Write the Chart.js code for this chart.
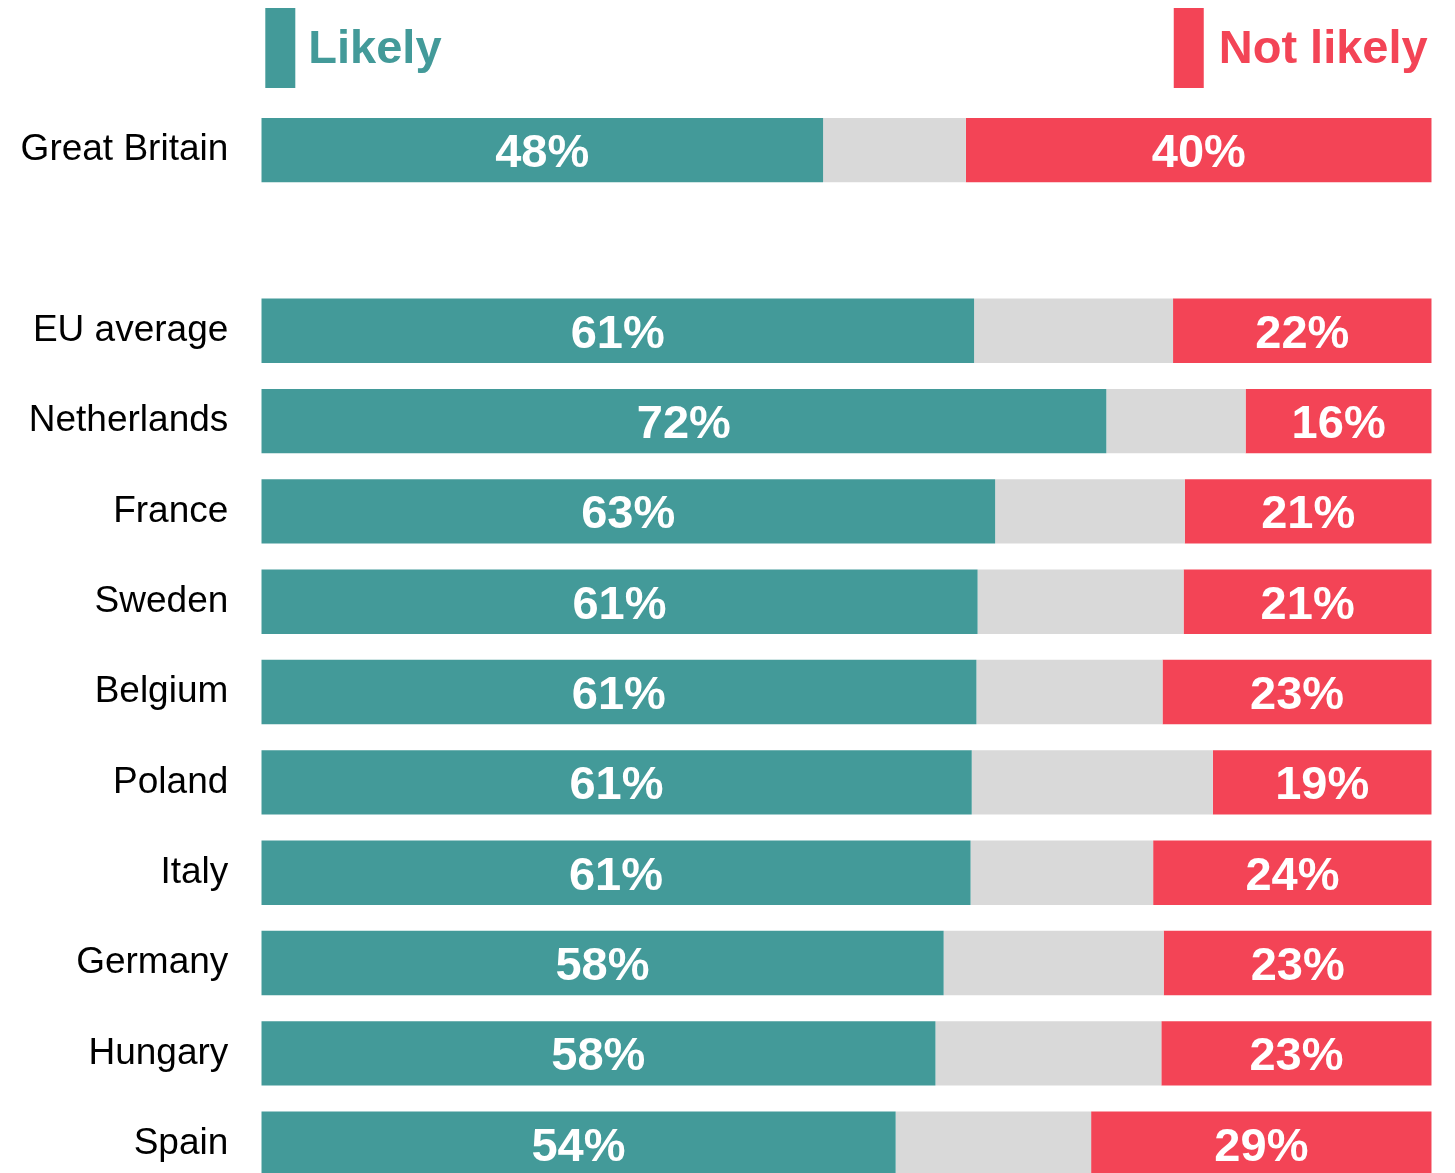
<!DOCTYPE html>
<html>
<head>
<meta charset="utf-8">
<script src="https://cdn.jsdelivr.net/npm/chart.js@4.4.1/dist/chart.umd.min.js"></script>
<style>
  html, body { margin: 0; padding: 0; background: #fff; overflow: hidden; height: 1173px; }
  #wrap { width: 1455px; height: 1244px; }
</style>
</head>
<body>
<div id="wrap"><canvas id="chart" width="1455" height="1244"></canvas></div>
<script>
  // rows, with an empty slot between GB and the EU block
  const countries = ["Great Britain", "", "EU average", "Netherlands", "France", "Sweden",
                     "Belgium", "Poland", "Italy", "Germany", "Hungary", "Spain"];
  // shares in %
  const likely    = [48.0, null, 60.9, 72.2, 62.7, 61.2, 61.1, 60.7, 60.6, 58.3, 57.6, 54.2];
  const neither   = [12.2, null, 17.0, 11.9, 16.2, 17.6, 15.9, 20.6, 15.6, 18.8, 19.3, 16.7];
  const notLikely = [39.8, null, 22.1, 15.9, 21.1, 21.2, 23.0, 18.7, 23.8, 22.9, 23.1, 29.1];

  const TEAL = "#439a99";
  const RED = "#f34456";
  const GREY = "#d9d9d9";
  const FONT = "'Liberation Sans', Arial, sans-serif";

  // white % labels in the middle of the coloured segments
  const barLabels = {
    id: "barLabels",
    afterDatasetsDraw(chart) {
      const ctx = chart.ctx;
      ctx.save();
      ctx.font = "bold 47px " + FONT;
      ctx.fillStyle = "#fff";
      ctx.textAlign = "center";
      ctx.textBaseline = "alphabetic";
      [0, 2].forEach(di => {
        const meta = chart.getDatasetMeta(di);
        meta.data.forEach((bar, i) => {
          const v = chart.data.datasets[di].data[i];
          if (v == null) return;
          const cx = (bar.x + bar.base) / 2;
          ctx.fillText(Math.round(v) + "%", cx, bar.y + 17);
        });
      });
      ctx.restore();
    }
  };

  // legend: coloured block + bold word, one at each end
  const topLegend = {
    id: "topLegend",
    afterDraw(chart) {
      const ctx = chart.ctx;
      const area = chart.chartArea;
      ctx.save();
      ctx.font = "bold 47px " + FONT;
      ctx.textBaseline = "alphabetic";
      ctx.fillStyle = TEAL;
      ctx.fillRect(area.left + 4, 8, 30, 80);
      ctx.textAlign = "left";
      ctx.fillText("Likely", area.left + 47, 63);

      ctx.fillStyle = RED;
      const w = ctx.measureText("Not likely").width;
      const tx = area.right - 4 - w;
      ctx.fillRect(tx - 45, 8, 30, 80);
      ctx.fillText("Not likely", tx, 63);
      ctx.restore();
    }
  };

  new Chart(document.getElementById("chart"), {
    type: "bar",
    data: {
      labels: countries,
      datasets: [
        { label: "Likely", data: likely, backgroundColor: TEAL },
        { label: "Neither", data: neither, backgroundColor: GREY },
        { label: "Not likely", data: notLikely, backgroundColor: RED }
      ]
    },
    options: {
      indexAxis: "y",
      responsive: false,
      animation: false,
      layout: { padding: { top: 105, bottom: 0, left: 0, right: 23.3 } },
      datasets: { bar: { barPercentage: 0.713, categoryPercentage: 1, borderWidth: 0 } },
      plugins: { legend: { display: false }, tooltip: { enabled: false } },
      scales: {
        x: {
          stacked: true, min: 0, max: 100, display: false
        },
        y: {
          stacked: true,
          grid: { display: false, drawTicks: false },
          border: { display: false },
          ticks: { color: "#000", padding: 33, font: { family: FONT, size: 37 } },
          afterFit(scale) { scale.width = 261.3; }
        }
      }
    },
    plugins: [barLabels, topLegend]
  });
</script>
</body>
</html>
